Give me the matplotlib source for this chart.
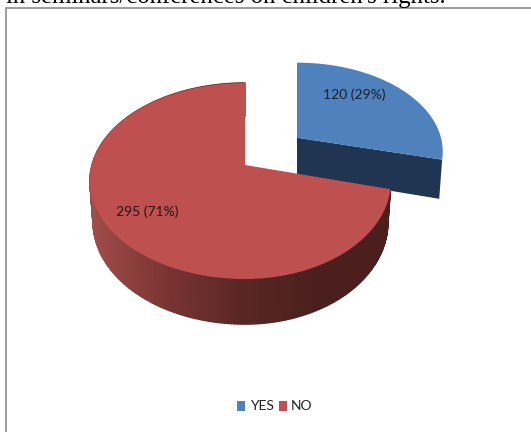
import numpy as np
import matplotlib; matplotlib.use("Agg")
import matplotlib.pyplot as plt
from matplotlib.collections import PolyCollection
from matplotlib.colors import LinearSegmentedColormap
from matplotlib.patches import Polygon, Rectangle

categories = ["YES", "NO"]
counts = [120, 295]
shares = [29, 71]
colors = ["#4f81bd", "#be514f"]

plt.rcParams["font.family"] = ["Lato", "DejaVu Sans"]

fig = plt.figure(figsize=(5.31, 4.32), dpi=100)
ax = fig.add_axes([0, 0, 1, 1])
ax.set_xlim(0, 531); ax.set_ylim(432, 0); ax.axis("off")

# fake 3D: pie plane seen in perspective, all in image pixels
CX, CY, RY, K = 245, 165, 95.4, 0.163
DEPTH, SHRINK = 39.5, 0.98

def project(u, v, z=0.0, dx=0.0, rx_left=153, rx_right=144):
    u, v = np.atleast_1d(u), np.atleast_1d(v)
    w = 1 + K * v
    s = 1 - (1 - SHRINK) * z
    rx = np.where(u < 0, rx_left, rx_right)
    return np.column_stack([CX + dx + rx * u / w * s,
                            CY - RY * v / w * s + DEPTH * (1 - 0.2 * v) * z])

def arc(a0, a1, n=120):
    t = np.radians(np.linspace(a0, a1, n))
    return np.sin(t), np.cos(t)

split = 360 * counts[0] / sum(counts)
blue_dx, blue_dv = 52, 0.30

# frame runs off the right and bottom, caption line cut off above it
ax.add_patch(Rectangle((6, 8), 560, 460, fc="white", ec="#8c8c8c", lw=1.2))
ax.text(6, 3.5, "in seminars/conferences on children's rights.", family="Liberation Serif",
        fontsize=17.8, color="black", va="baseline", ha="left")

# blue slice: front wall then top
def blue(u, v, z=0.0):
    return project(u, np.asarray(v) + blue_dv, z, dx=blue_dx, rx_right=151)

su, sv = np.sin(np.radians(split)), np.cos(np.radians(split))
wall = np.vstack([blue(0, 0), blue(su, sv), blue(su, sv, 1), blue(0, 0, 1)])
ax.add_patch(Polygon(wall, fc="#1f3552", ec="none"))
u, v = arc(0, split)
ax.add_patch(Polygon(np.vstack([blue(0, 0), blue(u, v)]), fc=colors[0], ec="none"))

# red slice: rim as thin strips so the shading can run left to right
u, v = arc(split, 360, n=240)
upper, lower = project(u, v), project(u, v, 1)
quads = [[upper[i], upper[i + 1], lower[i + 1], lower[i]] for i in range(len(u) - 1)]
shade = LinearSegmentedColormap.from_list("rim", ["#a04c4a", "#7a3432", "#5a2725", "#4a1f1d", "#4a1f1d"])
mids = np.array([q[0][0] for q in quads])
rim = PolyCollection(quads, array=mids, cmap=shade, clim=(90, 395), edgecolors="face", linewidths=1.0)
ax.add_collection(rim)
ax.add_patch(Polygon(np.vstack([project(0, 0), upper]), fc=colors[1], ec="none"))

# data labels
ax.text(354, 95, f"{counts[0]} ({shares[0]}%)", ha="center", va="center", fontsize=10, color="#15202b")
ax.text(147, 212, f"{counts[1]} ({shares[1]}%)", ha="center", va="center", fontsize=10, color="#2a1010")

# legend
for x, xt, c, name in zip([237, 279], [250, 291], colors, categories):
    ax.add_patch(Rectangle((x, 401), 8, 10, fc=c, ec="none"))
    ax.text(xt, 406, name, ha="left", va="center", fontsize=10, color="#222222")

fig.savefig("out.png", dpi=100)
